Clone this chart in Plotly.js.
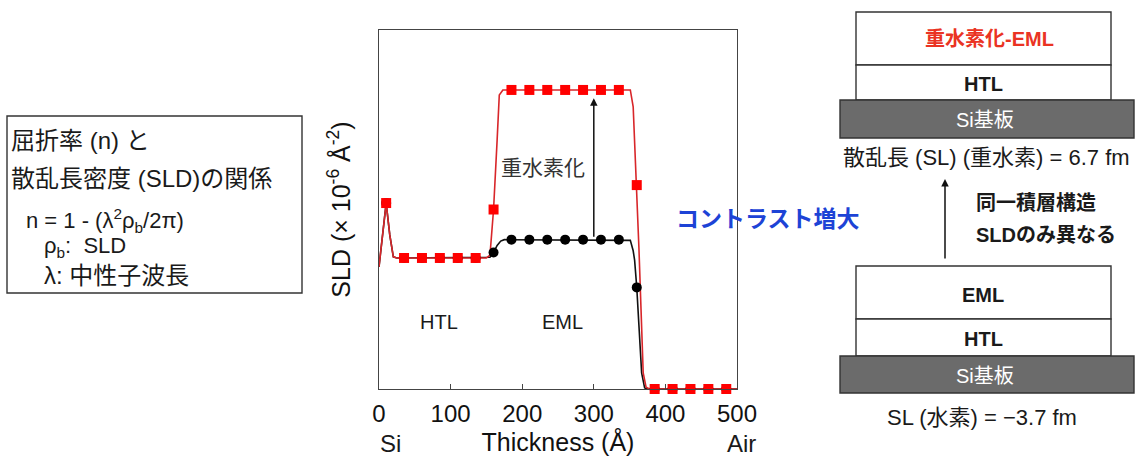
<!DOCTYPE html>
<html>
<head>
<meta charset="utf-8">
<script src="https://cdn.plot.ly/plotly-3.0.1.min.js"></script>
<style>html,body{margin:0;padding:0;background:#fff;}#chart{width:1135px;height:459px;}</style>
</head>
<body>
<div id="chart"></div>
<script>
// ---- data ----
// SLD depth profile lines (thickness in Å, SLD in arbitrary units ×10^-6 Å^-2)
const redProfileX   = [0, 5, 10, 15, 20, 25, 150, 155, 160, 165, 168, 173, 351, 355, 360, 363, 366, 369, 373, 378, 500];
const redProfileY   = [3.4, 4.3, 5.18, 4.3, 3.68, 3.65, 3.65, 3.73, 5.0, 6.94, 8.19, 8.33, 8.33, 7.86, 5.68, 3.94, 2.19, 0.45, 0.05, 0, 0];
const blackProfileX = [0, 5, 10, 15, 20, 25, 150, 155, 160, 165, 170, 175, 351, 355, 357, 360, 363, 366.8, 371, 376, 500];
const blackProfileY = [3.4, 4.3, 5.18, 4.3, 3.68, 3.65, 3.65, 3.67, 3.8, 4.0, 4.12, 4.16, 4.14, 3.85, 3.59, 2.83, 1.78, 0.45, 0.03, 0, 0];
// marker points
const markerX      = [10, 35, 60, 85, 110, 135, 160, 185, 210, 235, 260, 285, 310, 335, 360, 385, 410, 435, 460, 485];
const redMarkers   = [5.18, 3.65, 3.65, 3.65, 3.65, 3.65, 5.0, 8.33, 8.33, 8.33, 8.33, 8.33, 8.33, 8.33, 5.68, 0, 0, 0, 0, 0];
const blackMarkers = [5.18, 3.65, 3.65, 3.65, 3.65, 3.65, 3.8, 4.16, 4.16, 4.16, 4.16, 4.16, 4.16, 4.16, 2.83, 0, 0, 0, 0, 0];
const xTicks = [0, 100, 200, 300, 400, 500];
const xTickLabels = ['0', '100', '200', '300', '400', '500'];

// ---- layout helpers (page pixels -> paper coords) ----
const L = 379, R = 737, T = 30, B = 389;
const W = R - L, H = B - T;
const px = x => (x - L) / W;
const py = y => (B - y) / H;
const FONT = 'Liberation Sans, Arial, Noto Sans CJK JP, sans-serif';
const JP = 'Noto Sans CJK JP, Liberation Sans, sans-serif';

const traces = [
  {x: blackProfileX, y: blackProfileY, mode: 'lines', line: {color: '#111', width: 1.6}, cliponaxis: false, showlegend: false, hoverinfo: 'skip'},
  {x: redProfileX, y: redProfileY, mode: 'lines', line: {color: '#d8262a', width: 1.6}, cliponaxis: false, showlegend: false, hoverinfo: 'skip'},
  {x: markerX, y: blackMarkers, mode: 'markers', marker: {symbol: 'circle', size: 10, color: '#000'}, cliponaxis: false, showlegend: false},
  {x: markerX, y: redMarkers, mode: 'markers', marker: {symbol: 'square', size: 10, color: '#ff0000'}, cliponaxis: false, showlegend: false}
];

function txt(x, y, text, size, opts) {
  return Object.assign({xref: 'paper', yref: 'paper', x: px(x), y: py(y), text: text, showarrow: false,
    xanchor: 'left', yanchor: 'middle', borderpad: 0, font: {family: FONT, size: size, color: '#1a1a1a'}}, opts || {});
}
function box(x0, y0, x1, y1, fill) {
  return {type: 'rect', xref: 'paper', yref: 'paper', x0: px(x0), x1: px(x1), y0: py(y1), y1: py(y0),
    fillcolor: fill, line: {color: '#333', width: 1.4}, layer: 'above'};
}

const annotations = [
  // left explanation box
  txt(10, 140, '屈折率 (n) と', 24),
  txt(10, 178, '散乱長密度 (SLD)の関係', 24),
  txt(25, 220, 'n = 1 - (λ<sup>2</sup>ρ<sub>b</sub>/2π)', 22),
  txt(43, 247, 'ρ<sub>b</sub>:  SLD', 22),
  txt(43, 275, 'λ: 中性子波長', 24),
  // plot annotations
  {xref: 'x', yref: 'y', x: 84, y: 1.87, text: 'HTL', showarrow: false, font: {family: FONT, size: 20, color: '#1a1a1a'}},
  {xref: 'x', yref: 'y', x: 256, y: 1.87, text: 'EML', showarrow: false, font: {family: FONT, size: 20, color: '#1a1a1a'}},
  {xref: 'x', yref: 'y', x: 229, y: 6.2, text: '重水素化', showarrow: false, font: {family: JP, size: 21, color: '#333'}},
  {xref: 'x', yref: 'y', x: 300, y: 8.1, axref: 'x', ayref: 'y', ax: 300, ay: 4.2, text: '', showarrow: true,
    arrowhead: 2, arrowsize: 1, arrowwidth: 1.5, arrowcolor: '#111', standoff: 0, startstandoff: 0},
  txt(390, 443, 'Si', 24, {xanchor: 'center'}),
  txt(741, 443, 'Air', 24, {xanchor: 'center'}),
  // contrast label
  txt(768, 217, '<b>コントラスト増大</b>', 23, {xanchor: 'center', font: {family: JP, size: 23, color: '#1d43d6'}}),
  // right diagrams
  txt(989, 39, '<b>重水素化-EML</b>', 20, {xanchor: 'center', font: {family: FONT, size: 20, color: '#ea3323'}}),
  txt(983, 84, '<b>HTL</b>', 20, {xanchor: 'center'}),
  txt(985, 120, 'Si基板', 20, {xanchor: 'center', font: {family: FONT, size: 20, color: '#fff'}}),
  txt(986, 157, '散乱長 (SL) (重水素) = 6.7 fm', 22, {xanchor: 'center'}),
  txt(975, 203, '<b>同一積層構造</b>', 20),
  txt(975, 235, '<b>SLDのみ異なる</b>', 20),
  {xref: 'paper', yref: 'paper', x: px(945), y: py(179), ax: 0, ay: 81, text: '', showarrow: true,
    arrowhead: 2, arrowsize: 1, arrowwidth: 1.5, arrowcolor: '#111', standoff: 0},
  txt(983, 295, '<b>EML</b>', 20, {xanchor: 'center'}),
  txt(983, 339, '<b>HTL</b>', 20, {xanchor: 'center'}),
  txt(985, 376, 'Si基板', 20, {xanchor: 'center', font: {family: FONT, size: 20, color: '#fff'}}),
  txt(982, 417, 'SL (水素) = −3.7 fm', 22, {xanchor: 'center'})
];

const shapes = [
  {type: 'rect', xref: 'paper', yref: 'paper', x0: px(7), x1: px(302), y0: py(293), y1: py(116),
    fillcolor: 'rgba(0,0,0,0)', line: {color: '#333', width: 1.4}},
  box(856, 12, 1111, 65, '#fff'),
  box(856, 65, 1111, 100, '#fff'),
  box(840, 100, 1134, 138, '#6b6b6b'),
  box(856, 266, 1111, 319, '#fff'),
  box(856, 319, 1111, 356, '#fff'),
  box(840, 356, 1134, 393, '#6b6b6b')
];

const layout = {
  width: 1135, height: 459,
  margin: {l: L, r: 1135 - R, t: T, b: 459 - B},
  paper_bgcolor: '#fff', plot_bgcolor: '#fff',
  showlegend: false,
  font: {family: FONT, color: '#1a1a1a'},
  xaxis: {range: [0, 500], tickvals: xTicks, ticktext: xTickLabels, ticks: 'inside', ticklen: 5, tickwidth: 1.2, tickcolor: '#444',
    showline: true, linecolor: '#444', linewidth: 1.4, mirror: true, showgrid: false, zeroline: false,
    tickfont: {family: FONT, size: 24, color: '#111'}, ticklabelstandoff: 3,
    title: {text: 'Thickness (Å)', font: {family: FONT, size: 25, color: '#111'}, standoff: 6}, automargin: false},
  yaxis: {range: [0, 10], showticklabels: false, ticks: '', showline: true, linecolor: '#444', linewidth: 1.4, mirror: true,
    showgrid: false, zeroline: false,
    title: {text: 'SLD (× 10<sup>-6</sup> Å<sup>-2</sup>)', font: {family: FONT, size: 25, color: '#111'}, standoff: 20}, automargin: false},
  annotations: annotations,
  shapes: shapes
};

Plotly.newPlot('chart', traces, layout, {staticPlot: true, displayModeBar: false});
</script>
</body>
</html>
